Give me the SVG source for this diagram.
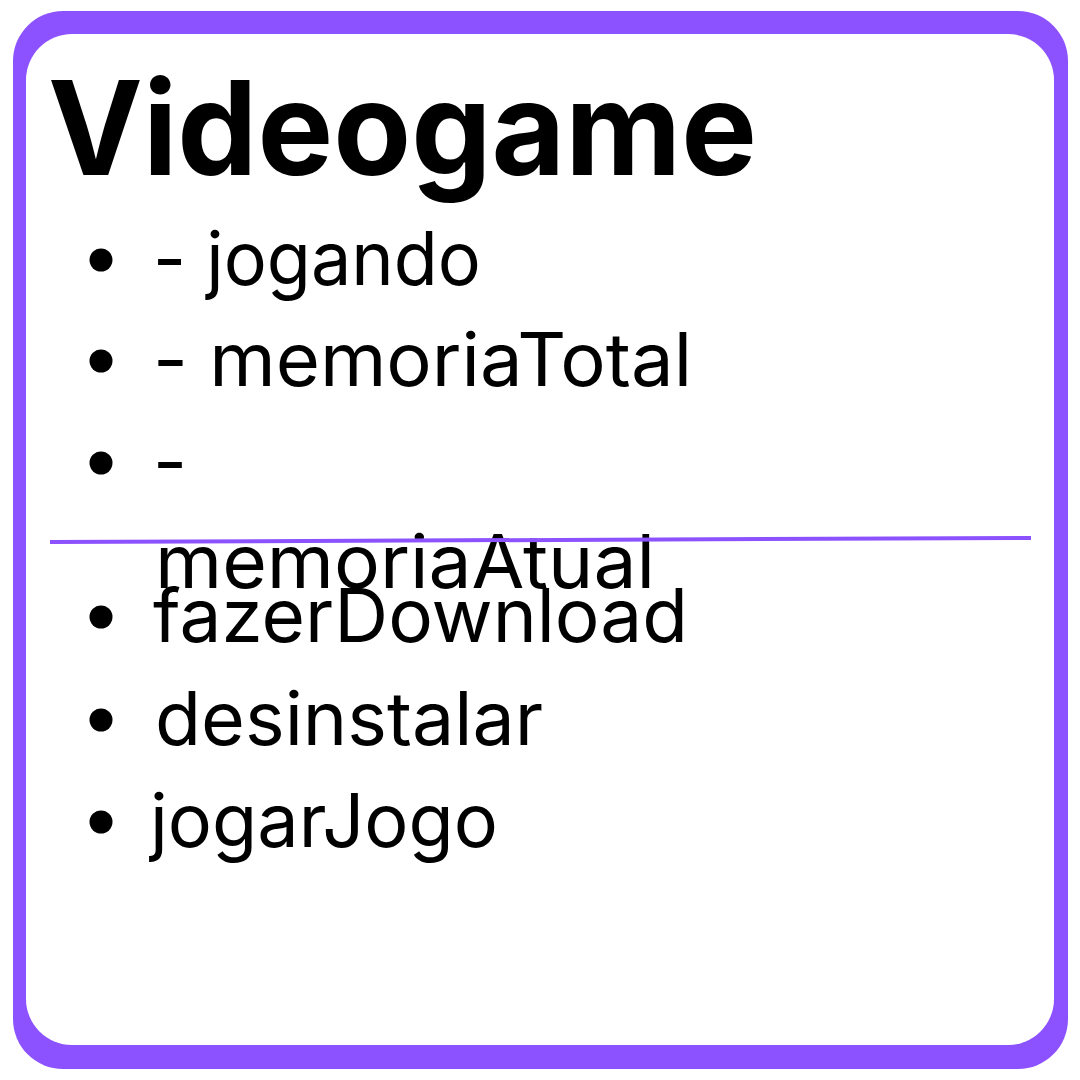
<svg xmlns="http://www.w3.org/2000/svg" width="1080" height="1080" viewBox="0 0 1080 1080">
  <style>
    .title { font-family: Inter, "Liberation Sans", sans-serif; font-weight: 700; font-size: 130px; fill: #000; }
    .item { font-family: Inter, "Liberation Sans", sans-serif; font-weight: 400; font-size: 74px; fill: #000; }
    .bullet { fill: #000; }
    .divider { stroke: #8c52ff; stroke-width: 4; fill: none; }
  </style>
  <rect width="1080" height="1080" fill="#ffffff"/>
  <g id="frame">
    <rect x="13" y="11" width="1055" height="1058" rx="50" ry="50" fill="#8c52ff"/>
    <rect x="26" y="34" width="1028" height="1011" rx="46" ry="46" fill="#ffffff"/>
  </g>
  <g id="title">
    <text class="title" x="48" y="175" textLength="709" lengthAdjust="spacingAndGlyphs">Videogame</text>
  </g>
  <g id="attributes">
    <circle class="bullet" cx="101" cy="260" r="11.5"/>
    <text class="item" x="153" y="285" textLength="328" lengthAdjust="spacingAndGlyphs">- jogando</text>
    <circle class="bullet" cx="101" cy="361" r="11.5"/>
    <text class="item" x="153" y="386" textLength="539" lengthAdjust="spacingAndGlyphs">- memoriaTotal</text>
    <circle class="bullet" cx="101" cy="463" r="11.5"/>
    <text class="item" x="153" y="488">-</text>
    <text class="item" x="155" y="588" textLength="500" lengthAdjust="spacingAndGlyphs">memoriaAtual</text>
  </g>
  <g id="methods">
    <circle class="bullet" cx="101" cy="617" r="11.5"/>
    <text class="item" x="153" y="642" textLength="535" lengthAdjust="spacingAndGlyphs">fazerDownload</text>
    <circle class="bullet" cx="101" cy="720" r="11.5"/>
    <text class="item" x="155" y="745" textLength="388" lengthAdjust="spacingAndGlyphs">desinstalar</text>
    <circle class="bullet" cx="101" cy="822" r="11.5"/>
    <text class="item" x="150" y="847" textLength="348" lengthAdjust="spacingAndGlyphs">jogarJogo</text>
  </g>
  <g id="connectors">
    <line class="divider" x1="50" y1="542" x2="1031" y2="538"/>
  </g>
</svg>
